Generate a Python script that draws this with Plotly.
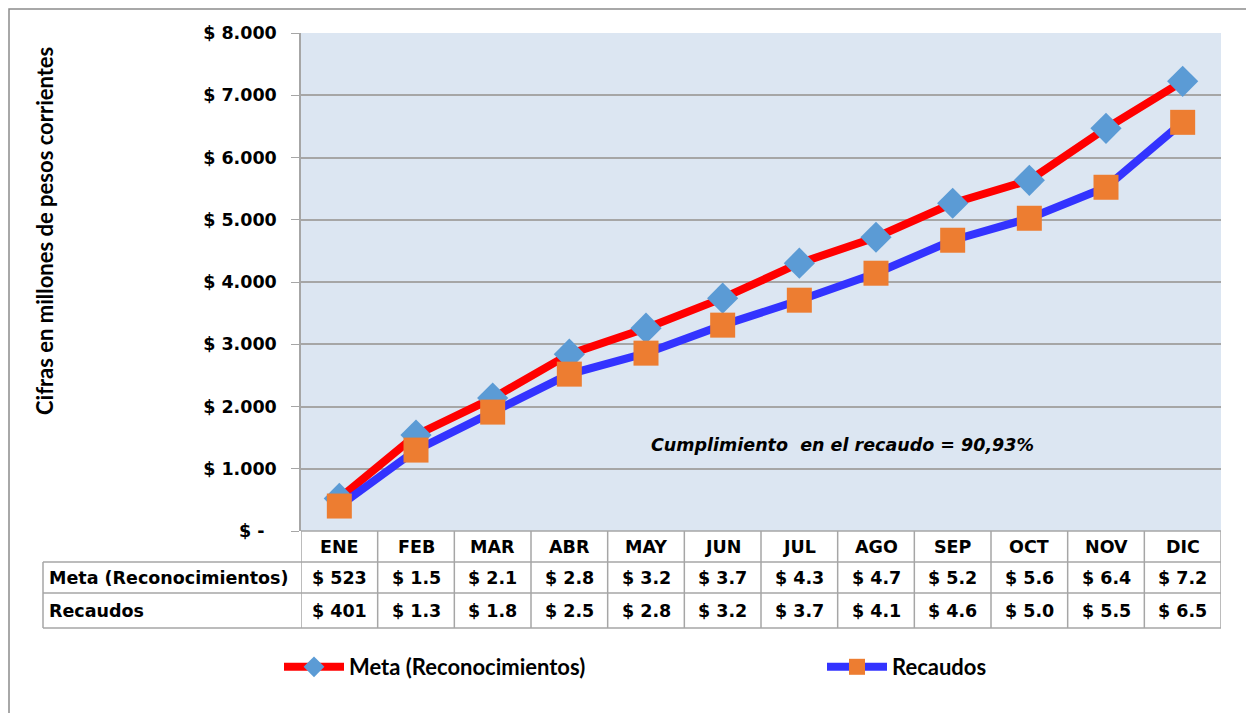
import plotly.graph_objects as go

months = ["ENE", "FEB", "MAR", "ABR", "MAY", "JUN", "JUL", "AGO", "SEP", "OCT", "NOV", "DIC"]
meta = [523, 1541, 2135, 2841, 3258, 3740, 4302, 4719, 5265, 5634, 6469, 7223]
recaudos = [401, 1300, 1910, 2520, 2857, 3307, 3708, 4141, 4671, 5024, 5522, 6565]
meta_labels = ["$ 523", "$ 1.5", "$ 2.1", "$ 2.8", "$ 3.2", "$ 3.7", "$ 4.3", "$ 4.7", "$ 5.2", "$ 5.6", "$ 6.4", "$ 7.2"]
rec_labels = ["$ 401", "$ 1.3", "$ 1.8", "$ 2.5", "$ 2.8", "$ 3.2", "$ 3.7", "$ 4.1", "$ 4.6", "$ 5.0", "$ 5.5", "$ 6.5"]
row_names = ["Meta (Reconocimientos)", "Recaudos"]
y_ticks = [0, 1000, 2000, 3000, 4000, 5000, 6000, 7000, 8000]
y_ticktext = ["$ -\u00a0\u00a0", "$ 1.000", "$ 2.000", "$ 3.000", "$ 4.000", "$ 5.000", "$ 6.000", "$ 7.000", "$ 8.000"]
note = "Cumplimiento  en el recaudo = 90,93%"
y_title = "Cifras en millones de pesos corrientes"

OFF = 8  # page body margin
W, H = 1254 - OFF, 713 - OFF
L, T = 301 - OFF, 33 - OFF
R = W - (1221 - OFF)
B = H - (531 - OFF)
pw, ph = W - L - R, H - T - B

def px(x):  # reference page pixel -> paper x
    return (x - OFF - L) / pw

def py(y):  # reference page pixel -> paper y
    return (H - B - (y - OFF)) / ph

fig = go.Figure()
fig.add_trace(go.Scatter(
    x=months, y=meta, name=row_names[0], mode="lines+markers", legend="legend",
    line=dict(color="#FF0000", width=8),
    marker=dict(symbol="diamond", size=24, color="#5B9BD5"),
))
fig.add_trace(go.Scatter(
    x=months, y=recaudos, name=row_names[1], mode="lines+markers", legend="legend2",
    line=dict(color="#3333FF", width=8),
    marker=dict(symbol="square", size=25, color="#ED7D31"),
))

tfont = dict(family="DejaVu Sans", size=17.5, color="black", weight="bold")
grid = "#A6A6A6"
shapes = []
annotations = []

# outer border
shapes.append(dict(type="rect", xref="paper", yref="paper", x0=px(9), x1=px(1270), y0=py(9), y1=py(730),
                   line=dict(color="#8C8C8C", width=1.5), layer="below"))

# table rows
row_y = [531, 562, 593, 628]
for i, yy in enumerate(row_y):
    x0 = px(301) if i == 0 else px(43)
    shapes.append(dict(type="line", xref="paper", yref="paper", x0=x0, x1=1, y0=py(yy), y1=py(yy),
                       line=dict(color=grid, width=1.5)))
shapes.append(dict(type="line", xref="paper", yref="paper", x0=px(43), x1=px(43), y0=py(562), y1=py(628),
                   line=dict(color=grid, width=1.5)))
for i in range(len(months) + 1):
    shapes.append(dict(type="line", xref="x", yref="paper", x0=i - 0.5, x1=i - 0.5, y0=py(531), y1=py(628),
                       line=dict(color=grid, width=1.5)))

for i, m in enumerate(months):
    annotations.append(dict(x=i, y=py(547), xref="x", yref="paper", text=m,
                            showarrow=False, font=tfont, xanchor="center", yanchor="middle"))
    annotations.append(dict(x=i, y=py(578), xref="x", yref="paper", text=meta_labels[i],
                            showarrow=False, font=tfont, xanchor="center", yanchor="middle"))
    annotations.append(dict(x=i, y=py(611), xref="x", yref="paper", text=rec_labels[i],
                            showarrow=False, font=tfont, xanchor="center", yanchor="middle"))
annotations.append(dict(x=px(47), y=py(578), xref="paper", yref="paper", text=row_names[0],
                        showarrow=False, font=tfont, xanchor="left", yanchor="middle"))
annotations.append(dict(x=px(47), y=py(611), xref="paper", yref="paper", text=row_names[1],
                        showarrow=False, font=tfont, xanchor="left", yanchor="middle"))

annotations.append(dict(x=px(842), y=py(445), xref="paper", yref="paper", text="<i>%s</i>" % note,
                        showarrow=False, font=tfont, xanchor="center", yanchor="middle"))
annotations.append(dict(x=px(45), y=py(231), xref="paper", yref="paper", text=y_title,
                        showarrow=False, textangle=-90,
                        font=dict(family="Lato, Open Sans", size=22, color="black", weight="bold"),
                        xanchor="center", yanchor="middle"))

lfont = dict(family="Lato, Open Sans", size=22, color="black", weight="bold")
fig.update_layout(
    width=W, height=H,
    margin=dict(l=L, r=R, t=T, b=B, pad=0),
    paper_bgcolor="white", plot_bgcolor="#DCE6F2",
    showlegend=True,
    legend=dict(x=px(279), y=py(667), xanchor="left", yanchor="middle", itemwidth=60,
                font=lfont, bgcolor="rgba(0,0,0,0)"),
    legend2=dict(x=px(822), y=py(667), xanchor="left", yanchor="middle", itemwidth=60,
                 font=lfont, bgcolor="rgba(0,0,0,0)"),
    xaxis=dict(type="category", range=[-0.5, 11.5], showticklabels=False, showgrid=False,
               zeroline=False, ticks=""),
    yaxis=dict(range=[0, 8000], tickvals=y_ticks, ticktext=y_ticktext,
               tickfont=tfont, showgrid=True, gridcolor=grid, gridwidth=1.5,
               zeroline=False, showline=True, linecolor=grid, linewidth=1.5,
               ticks="outside", ticklen=8, tickcolor=grid, ticklabelstandoff=11),
    shapes=shapes, annotations=annotations,
)

fig.write_html("out.html")
